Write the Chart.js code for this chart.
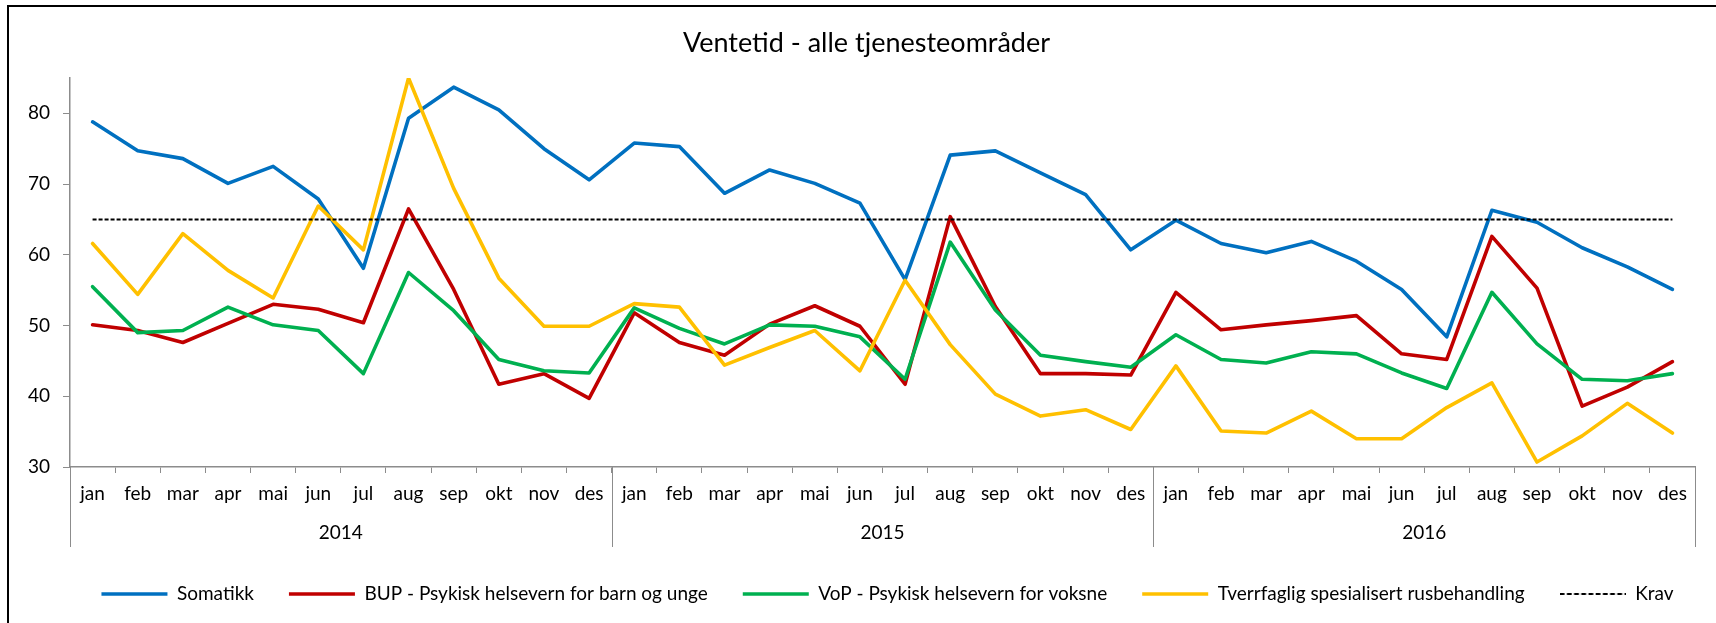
<!DOCTYPE html>
<html>
<head>
<meta charset="utf-8">
<script src="https://cdn.jsdelivr.net/npm/chart.js@4.4.1/dist/chart.umd.min.js"></script>
<style>
  html, body { margin: 0; padding: 0; background: #fff; }
  #wrap { width: 1716px; height: 623px; position: relative; }
</style>
</head>
<body>
<div id="wrap"><canvas id="ventetid"></canvas></div>
<script>
var months = ["jan", "feb", "mar", "apr", "mai", "jun", "jul", "aug", "sep", "okt", "nov", "des",
              "jan", "feb", "mar", "apr", "mai", "jun", "jul", "aug", "sep", "okt", "nov", "des",
              "jan", "feb", "mar", "apr", "mai", "jun", "jul", "aug", "sep", "okt", "nov", "des"];
var years = ["2014", "2015", "2016"];

var somatikk = [78.8, 74.7, 73.6, 70.1, 72.5, 67.9, 58.1, 79.3, 83.7, 80.5, 75.0, 70.6,
                75.8, 75.3, 68.7, 72.0, 70.1, 67.3, 56.5, 74.1, 74.7, 71.6, 68.5, 60.7,
                64.9, 61.6, 60.3, 61.9, 59.1, 55.1, 48.4, 66.3, 64.6, 61.0, 58.3, 55.1];
var bup = [50.1, 49.3, 47.6, 50.3, 53.0, 52.3, 50.4, 66.5, 55.1, 41.7, 43.2, 39.7,
           51.8, 47.6, 45.8, 50.2, 52.8, 49.9, 41.7, 65.4, 52.7, 43.2, 43.2, 43.0,
           54.7, 49.4, 50.1, 50.7, 51.4, 46.0, 45.2, 62.6, 55.3, 38.6, 41.3, 44.9];
var vop = [55.5, 49.0, 49.3, 52.6, 50.1, 49.3, 43.2, 57.5, 52.1, 45.2, 43.6, 43.3,
           52.5, 49.6, 47.4, 50.1, 49.9, 48.4, 42.4, 61.8, 52.2, 45.8, 44.9, 44.1,
           48.7, 45.2, 44.7, 46.3, 46.0, 43.3, 41.1, 54.7, 47.4, 42.4, 42.2, 43.2];
var rus = [61.6, 54.4, 63.0, 57.8, 53.9, 66.9, 60.7, 85.0, 69.4, 56.7, 49.9, 49.9,
           53.1, 52.6, 44.4, 46.9, 49.3, 43.6, 56.4, 47.3, 40.3, 37.2, 38.1, 35.3,
           44.3, 35.1, 34.8, 37.9, 34.0, 34.0, 38.4, 41.9, 30.7, 34.4, 39.0, 34.8];
var krav = [65, 65, 65, 65, 65, 65, 65, 65, 65, 65, 65, 65,
            65, 65, 65, 65, 65, 65, 65, 65, 65, 65, 65, 65,
            65, 65, 65, 65, 65, 65, 65, 65, 65, 65, 65, 65];

Chart.defaults.font.family = "Lato, 'Noto Sans', sans-serif";
Chart.defaults.color = "#000";

var axisGrey = "#8c8c8c";

// the legend does not dash point styles, so Krav gets a small dashed image
var kravSample = document.createElement("canvas");
kravSample.width = 66;
kravSample.height = 4;
(function () {
    var c = kravSample.getContext("2d");
    c.strokeStyle = "#000";
    c.lineWidth = 2;
    c.setLineDash([4.8, 2.4]);
    c.beginPath();
    c.moveTo(0, 2);
    c.lineTo(66, 2);
    c.stroke();
})();

// frame round the whole chart, year separators and year labels under the months
var excelFrame = {
    id: "excelFrame",
    beforeDraw: function (chart) {
        var ctx = chart.ctx;
        ctx.save();
        ctx.fillStyle = "#fff";
        ctx.fillRect(0, 0, chart.width, chart.height);
        ctx.strokeStyle = "#000";
        ctx.lineWidth = 2;
        ctx.beginPath();
        ctx.moveTo(8, chart.height);
        ctx.lineTo(8, 6);
        ctx.lineTo(chart.width, 6);
        ctx.stroke();
        ctx.restore();
    },
    afterLayout: function (chart) {
        // nudge title and legend row to where Excel put them
        chart.titleBlock.left += 14;
        chart.titleBlock.right += 14;
        chart.legend.left += 35;
        chart.legend.right += 35;
    },
    afterDraw: function (chart) {
        var x = chart.scales.x;
        var ctx = chart.ctx;
        ctx.save();
        ctx.strokeStyle = axisGrey;
        ctx.lineWidth = 1;
        for (var g = 0; g <= years.length; g++) {
            var px = Math.round(x.getPixelForValue(g * 12 - 0.5)) + 0.5;
            ctx.beginPath();
            ctx.moveTo(px, x.top);
            ctx.lineTo(px, x.top + 80);
            ctx.stroke();
        }
        ctx.fillStyle = "#000";
        ctx.font = "19px " + Chart.defaults.font.family;
        ctx.textAlign = "center";
        ctx.textBaseline = "middle";
        years.forEach(function (yr, i) {
            ctx.fillText(yr, x.getPixelForValue(i * 12 + 5.5), x.top + 66);
        });
        ctx.restore();
    }
};

function serie(label, data, color, order) {
    return {
        label: label,
        data: data,
        borderColor: color,
        backgroundColor: color,
        borderWidth: 3.6,
        borderJoinStyle: "round",
        borderCapStyle: "round",
        pointRadius: 0,
        pointStyle: "line",
        tension: 0,
        fill: false,
        order: order
    };
}

var ctx = document.getElementById("ventetid");

new Chart(ctx, {
    type: "line",
    data: {
        labels: months,
        datasets: [
            serie("Somatikk", somatikk, "#0070C0", 5),
            serie("BUP - Psykisk helsevern for barn og unge", bup, "#C00000", 4),
            serie("VoP - Psykisk helsevern for voksne", vop, "#00B050", 3),
            serie("Tverrfaglig spesialisert rusbehandling", rus, "#FFC000", 2),
            {
                label: "Krav",
                data: krav,
                borderColor: "#000",
                backgroundColor: "#000",
                borderWidth: 2,
                borderDash: [4, 2],
                pointRadius: 0,
                pointStyle: kravSample,
                fill: false,
                order: 1
            }
        ]
    },
    options: {
        responsive: true,
        maintainAspectRatio: false,
        animation: false,
        layout: { padding: { left: 10, right: 21, top: 0, bottom: 9.5 } },
        plugins: {
            title: {
                display: true,
                text: "Ventetid - alle tjenesteområder",
                color: "#000",
                font: { size: 27, weight: "normal" },
                padding: { top: 26.8, bottom: 18.8 }
            },
            legend: {
                position: "bottom",
                labels: {
                    usePointStyle: true,
                    pointStyleWidth: 66,
                    padding: 35,
                    color: "#000",
                    font: { size: 19 },
                    sort: function (a, b) { return a.datasetIndex - b.datasetIndex; }
                }
            },
            tooltip: { enabled: false }
        },
        scales: {
            x: {
                type: "category",
                offset: true,
                afterFit: function (s) { s.height = 82.5; },
                grid: {
                    offset: true,
                    drawOnChartArea: false,
                    drawTicks: true,
                    tickLength: 6,
                    color: axisGrey
                },
                border: { color: axisGrey, width: 1.5 },
                ticks: {
                    autoSkip: false,
                    maxRotation: 0,
                    padding: 9,
                    font: { size: 19 },
                    color: "#000"
                }
            },
            y: {
                min: 30,
                max: 85,
                afterFit: function (s) { s.width = 60; },
                afterBuildTicks: function (s) {
                    s.ticks = s.ticks.filter(function (t) { return t.value % 10 === 0; });
                },
                grid: {
                    drawOnChartArea: false,
                    drawTicks: true,
                    tickLength: 7,
                    color: axisGrey
                },
                border: { color: axisGrey, width: 1.5 },
                ticks: {
                    stepSize: 10,
                    padding: 13,
                    font: { size: 19 },
                    color: "#000"
                }
            }
        }
    },
    plugins: [excelFrame]
});
</script>
</body>
</html>
